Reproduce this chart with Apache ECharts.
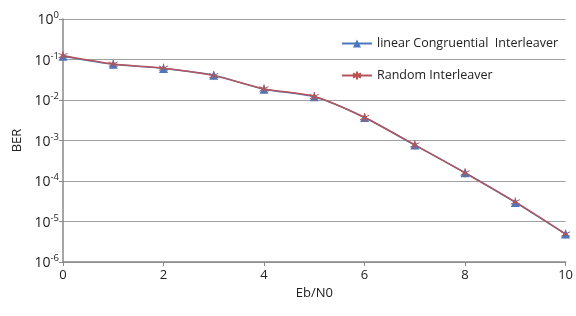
<!DOCTYPE html>
<html><head><meta charset="utf-8">
<script src="https://cdn.jsdelivr.net/npm/echarts@6/dist/echarts.min.js"></script>
<style>html,body{margin:0;padding:0;background:#fff;}#c{width:576px;height:316px;}</style>
</head><body><div id="c"></div>
<script>
const ebn0 = [0,1,2,3,4,5,6,7,8,9,10];
const berLCI = [0.12,0.076,0.060,0.041,0.0185,0.012,0.0037,0.00077,0.00016,0.0000296,0.0000049];
const berRandom = [0.125,0.077,0.061,0.040,0.0188,0.0122,0.0037,0.00078,0.000158,0.0000305,0.0000049];
const seriesNames = ['linear Congruential  Interleaver','Random Interleaver'];
const xTicks = [0,2,4,6,8,10];

const chart = echarts.init(document.getElementById('c'));
const font = 'Open Sans, Noto Sans, sans-serif';
chart.setOption({
  backgroundColor:'#ffffff',
  animation:false,
  grid:{left:63,right:9,top:19,bottom:54},
  legend:{
    orient:'vertical', left:336, top:32, itemGap:19, itemWidth:30, itemHeight:10,
    textStyle:{fontFamily:font,fontSize:12.5,color:'#222'},
    data:seriesNames
  },
  xAxis:{
    type:'value', min:0, max:10, interval:2,
    name:'Eb/N0', nameLocation:'middle', nameGap:25,
    nameTextStyle:{fontFamily:font,fontSize:13,color:'#222'},
    axisLine:{lineStyle:{color:'#888',width:1.5}},
    axisTick:{show:true,inside:false,length:4,lineStyle:{color:'#888'}},
    axisLabel:{fontFamily:font,fontSize:13,color:'#222',margin:7},
    splitLine:{show:false}
  },
  yAxis:{
    type:'log', logBase:10, min:1e-6, max:1,
    name:'BER', nameLocation:'middle', nameGap:37,
    nameTextStyle:{fontFamily:font,fontSize:13,color:'#222'},
    axisLine:{show:true,lineStyle:{color:'#888',width:1.5}},
    axisTick:{show:true,length:4,lineStyle:{color:'#888'}},
    axisLabel:{
      margin:4,
      formatter:function(v){
        const e = Math.round(Math.log10(v));
        return '{b|10}{s|' + e + '}';
      },
      rich:{
        b:{fontFamily:font,fontSize:14,color:'#222',verticalAlign:'bottom',lineHeight:17},
        s:{fontFamily:font,fontSize:9.5,color:'#222',verticalAlign:'top',padding:[0,0,8,0],lineHeight:17}
      }
    },
    splitLine:{show:true,lineStyle:{color:'#a0a0a0',width:1.2}}
  },
  series:[
    {name:seriesNames[0], type:'line', smooth:0.25,
     data:ebn0.map((x,i)=>[x,berLCI[i]]),
     symbol:'triangle', symbolSize:9,
     itemStyle:{color:'#4a78bd'},
     lineStyle:{color:'#4a78bd',width:1.5}},
    {name:seriesNames[1], type:'line', smooth:0.25,
     data:ebn0.map((x,i)=>[x,berRandom[i]]),
     symbol:'path://M0,-5L0,5M-4.3,-2.5L4.3,2.5M-4.3,2.5L4.3,-2.5', symbolSize:9,
     itemStyle:{color:'#c0504d',borderColor:'#c0504d',borderWidth:1},
     lineStyle:{color:'#b5555a',width:1.5}}
  ]
});
</script></body></html>
